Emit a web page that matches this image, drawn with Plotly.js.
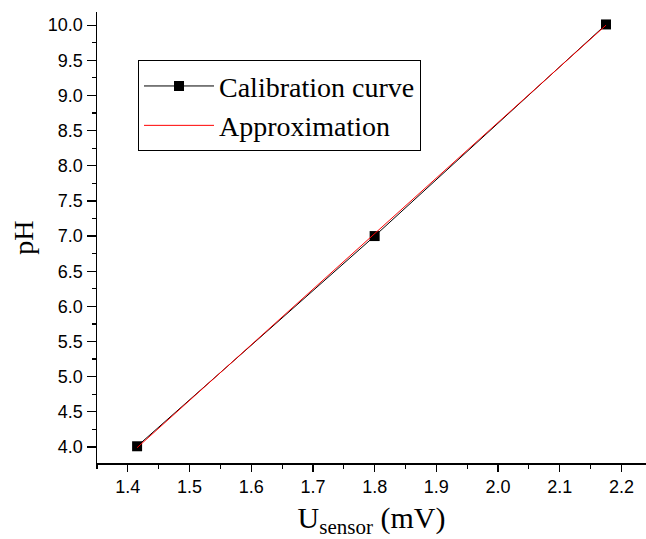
<!DOCTYPE html>
<html><head><meta charset="utf-8">
<script src="https://cdn.plot.ly/plotly-3.0.1.min.js"></script>
<style>body{margin:0;padding:0;background:#fff}#chart{width:646px;height:539px}</style>
</head><body><div id="chart"></div>
<script>
const calibX = [1.415, 1.80, 2.175];
const calibY = [4.01, 7.00, 10.01];
const approxX = [1.415, 2.175];
const approxY = [3.99, 10.00];
const xTickVals = [1.4,1.5,1.6,1.7,1.8,1.9,2.0,2.1,2.2];
const yTickVals = [4.0,4.5,5.0,5.5,6.0,6.5,7.0,7.5,8.0,8.5,9.0,9.5,10.0];

const traces = [
  {x: calibX, y: calibY, mode: 'lines+markers', name: 'Calibration curve',
   line: {color: '#000', width: 1}, marker: {symbol: 'square', size: 10, color: '#000'}},
  {x: approxX, y: approxY, mode: 'lines', name: 'Approximation',
   line: {color: '#ff0000', width: 1}}
];
const tickFont = {family: 'Liberation Sans, Arial, sans-serif', size: 18, color: '#000'};
const layout = {
  width: 646, height: 539,
  margin: {l: 97, r: 0, t: 12, b: 76},
  paper_bgcolor: '#fff', plot_bgcolor: '#fff',
  showlegend: true,
  legend: {x: 0.0747, y: 0.893, xanchor: 'left', yanchor: 'top',
    bordercolor: '#000', borderwidth: 1, bgcolor: '#fff',
    font: {family: 'Liberation Serif, Times New Roman, serif', size: 28, color: '#000'},
    itemwidth: 70, tracegroupgap: 0},
  xaxis: {range: [1.35, 2.2398], tickvals: xTickVals, ticktext: xTickVals.map(v => v.toFixed(1)),
    ticks: 'outside', ticklen: 7, tickwidth: 1.2, tickcolor: '#000',
    showline: true, linecolor: '#000', linewidth: 1.5, showgrid: false, zeroline: false,
    tickfont: tickFont,
    minor: {dtick: 0.05, tick0: 1.35, ticks: 'outside', ticklen: 4, tickwidth: 1.2, tickcolor: '#000', showgrid: false},
    title: {text: 'U<sub>sensor</sub> (mV)', standoff: 20,
      font: {family: 'Liberation Serif, Times New Roman, serif', size: 30, color: '#000'}}},
  yaxis: {range: [3.772, 10.187], tickvals: yTickVals, ticktext: yTickVals.map(v => v.toFixed(1)),
    ticks: 'outside', ticklen: 9, tickwidth: 1.2, tickcolor: '#000',
    showline: true, linecolor: '#000', linewidth: 1.5, showgrid: false, zeroline: false,
    tickfont: tickFont,
    minor: {dtick: 0.25, tick0: 4.0, ticks: 'outside', ticklen: 4, tickwidth: 1.2, tickcolor: '#000', showgrid: false},
    title: {text: 'pH', standoff: 6,
      font: {family: 'Liberation Serif, Times New Roman, serif', size: 28, color: '#000'}}}
};
Plotly.newPlot('chart', traces, layout, {displayModeBar: false, staticPlot: true});
</script></body></html>
